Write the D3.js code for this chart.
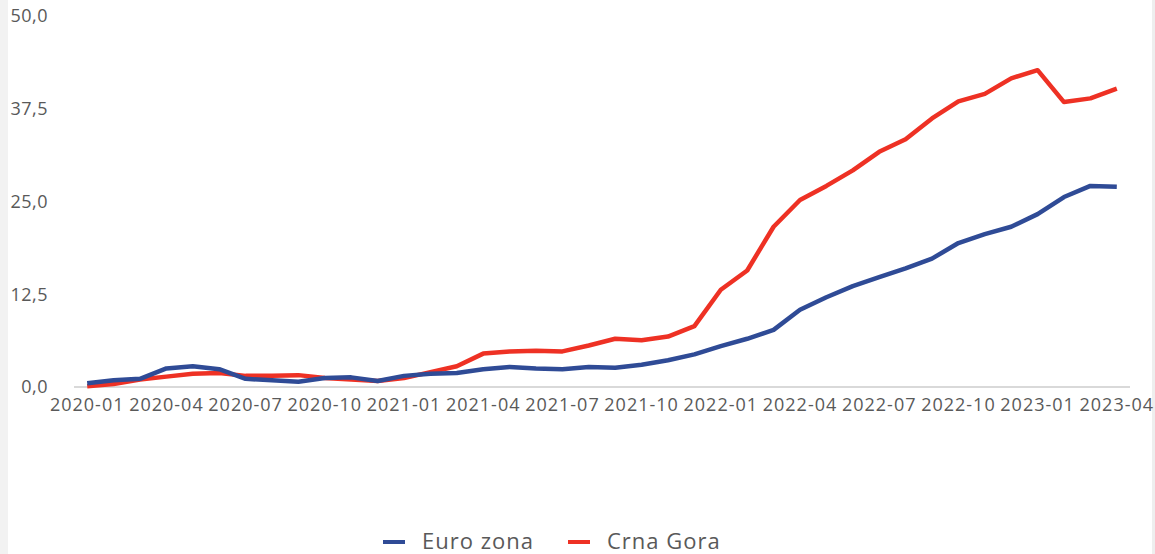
<!DOCTYPE html>
<html>
<head>
<meta charset="utf-8">
<script src="https://cdn.jsdelivr.net/npm/d3@7"></script>
<style>
  body { margin: 0; background: #fff; }
  svg { display: block; font-family: "Open Sans", sans-serif; }
</style>
</head>
<body>
<div id="chart"></div>
<script>
// monthly cumulative inflation, 2020-01 .. 2023-04
var months = []
for (var yr = 2020; yr <= 2023; yr++) {
  for (var m = 1; m <= 12; m++) {
    if (yr === 2023 && m > 4) break
    months.push(yr + "-" + (m < 10 ? "0" + m : m))
  }
}

var euroZona = [0.5, 0.9, 1.1, 2.5, 2.8, 2.4, 1.1, 0.9, 0.7, 1.2,
                1.3, 0.8, 1.5, 1.8, 1.9, 2.4, 2.7, 2.5, 2.4, 2.7,
                2.6, 3.0, 3.6, 4.4, 5.5, 6.5, 7.7, 10.4, 12.1, 13.6,
                14.8, 16.0, 17.3, 19.4, 20.6, 21.6, 23.3, 25.6, 27.1, 27.0]

var crnaGora = [0.1, 0.4, 1.0, 1.4, 1.8, 1.9, 1.5, 1.5, 1.6, 1.2,
                1.0, 0.8, 1.2, 2.0, 2.8, 4.5, 4.8, 4.9, 4.8, 5.6,
                6.5, 6.3, 6.8, 8.2, 13.1, 15.7, 21.6, 25.2, 27.1, 29.2,
                31.7, 33.4, 36.2, 38.5, 39.5, 41.6, 42.7, 38.4, 38.9, 40.2]

var yTicks = [0, 12.5, 25, 37.5, 50]
var seriesNames = ["Euro zona", "Crna Gora"]
var seriesColors = ["#2f4b96", "#ee3124"]

var width = 1155, height = 554
var plotLeft = 74, plotRight = 1130, plotTop = 16, plotBottom = 387

var svg = d3.select("#chart").append("svg")
  .attr("width", width)
  .attr("height", height)

// light gray strips at the edges
svg.append("rect").attr("x", 0).attr("y", 0).attr("width", 8).attr("height", height).attr("fill", "#f2f2f2")
svg.append("rect").attr("x", 1152).attr("y", 0).attr("width", 3).attr("height", height).attr("fill", "#eeeeee")

var x = d3.scaleBand().domain(months).range([plotLeft, plotRight])
var yScale = d3.scaleLinear().domain([0, 50]).range([plotBottom, plotTop])

var fmt = function(d) { return d3.format(".1f")(d).replace(".", ",") }

// y labels
svg.selectAll(".ylab")
  .data(yTicks)
  .enter()
  .append("text")
    .attr("x", 48)
    .attr("y", function(d) { return yScale(d) })
    .attr("dy", "0.35em")
    .style("text-anchor", "end")
    .style("font-size", "18px")
    .style("letter-spacing", "0.5px")
    .style("fill", "#595959")
    .text(fmt)

// x axis line
svg.append("line")
  .attr("x1", plotLeft).attr("x2", plotRight)
  .attr("y1", yScale(0)).attr("y2", yScale(0))
  .attr("stroke", "#d9d9d9")
  .attr("stroke-width", 2)

// x labels every 3 months
svg.selectAll(".xlab")
  .data(months.filter(function(d, i) { return i % 3 === 0 }))
  .enter()
  .append("text")
    .attr("x", function(d) { return x(d) + x.bandwidth() / 2 })
    .attr("y", 411)
    .style("text-anchor", "middle")
    .style("font-size", "18px")
    .style("letter-spacing", "1px")
    .style("fill", "#595959")
    .text(function(d) { return d })

var line = d3.line()
  .x(function(d, i) { return x(months[i]) + x.bandwidth() / 2 })
  .y(function(d) { return yScale(d) })

svg.append("path")
  .datum(crnaGora)
  .attr("d", line)
  .attr("fill", "none")
  .attr("stroke", seriesColors[1])
  .attr("stroke-width", 4.5)
  .attr("stroke-linejoin", "round")

svg.append("path")
  .datum(euroZona)
  .attr("d", line)
  .attr("fill", "none")
  .attr("stroke", seriesColors[0])
  .attr("stroke-width", 4.5)
  .attr("stroke-linejoin", "round")

// legend
var legX = [383, 568]
var leg = svg.selectAll(".leg")
  .data(seriesNames)
  .enter()
  .append("g")
    .attr("transform", function(d, i) { return "translate(" + legX[i] + ",542)" })

leg.append("line")
  .attr("x1", 0).attr("x2", 22)
  .attr("stroke", function(d, i) { return seriesColors[i] })
  .attr("stroke-width", 4)

leg.append("text")
  .attr("x", 39)
  .attr("dy", "0.3em")
  .style("font-size", "22px")
  .style("letter-spacing", "1px")
  .style("fill", "#595959")
  .text(function(d) { return d })
</script>
</body>
</html>
